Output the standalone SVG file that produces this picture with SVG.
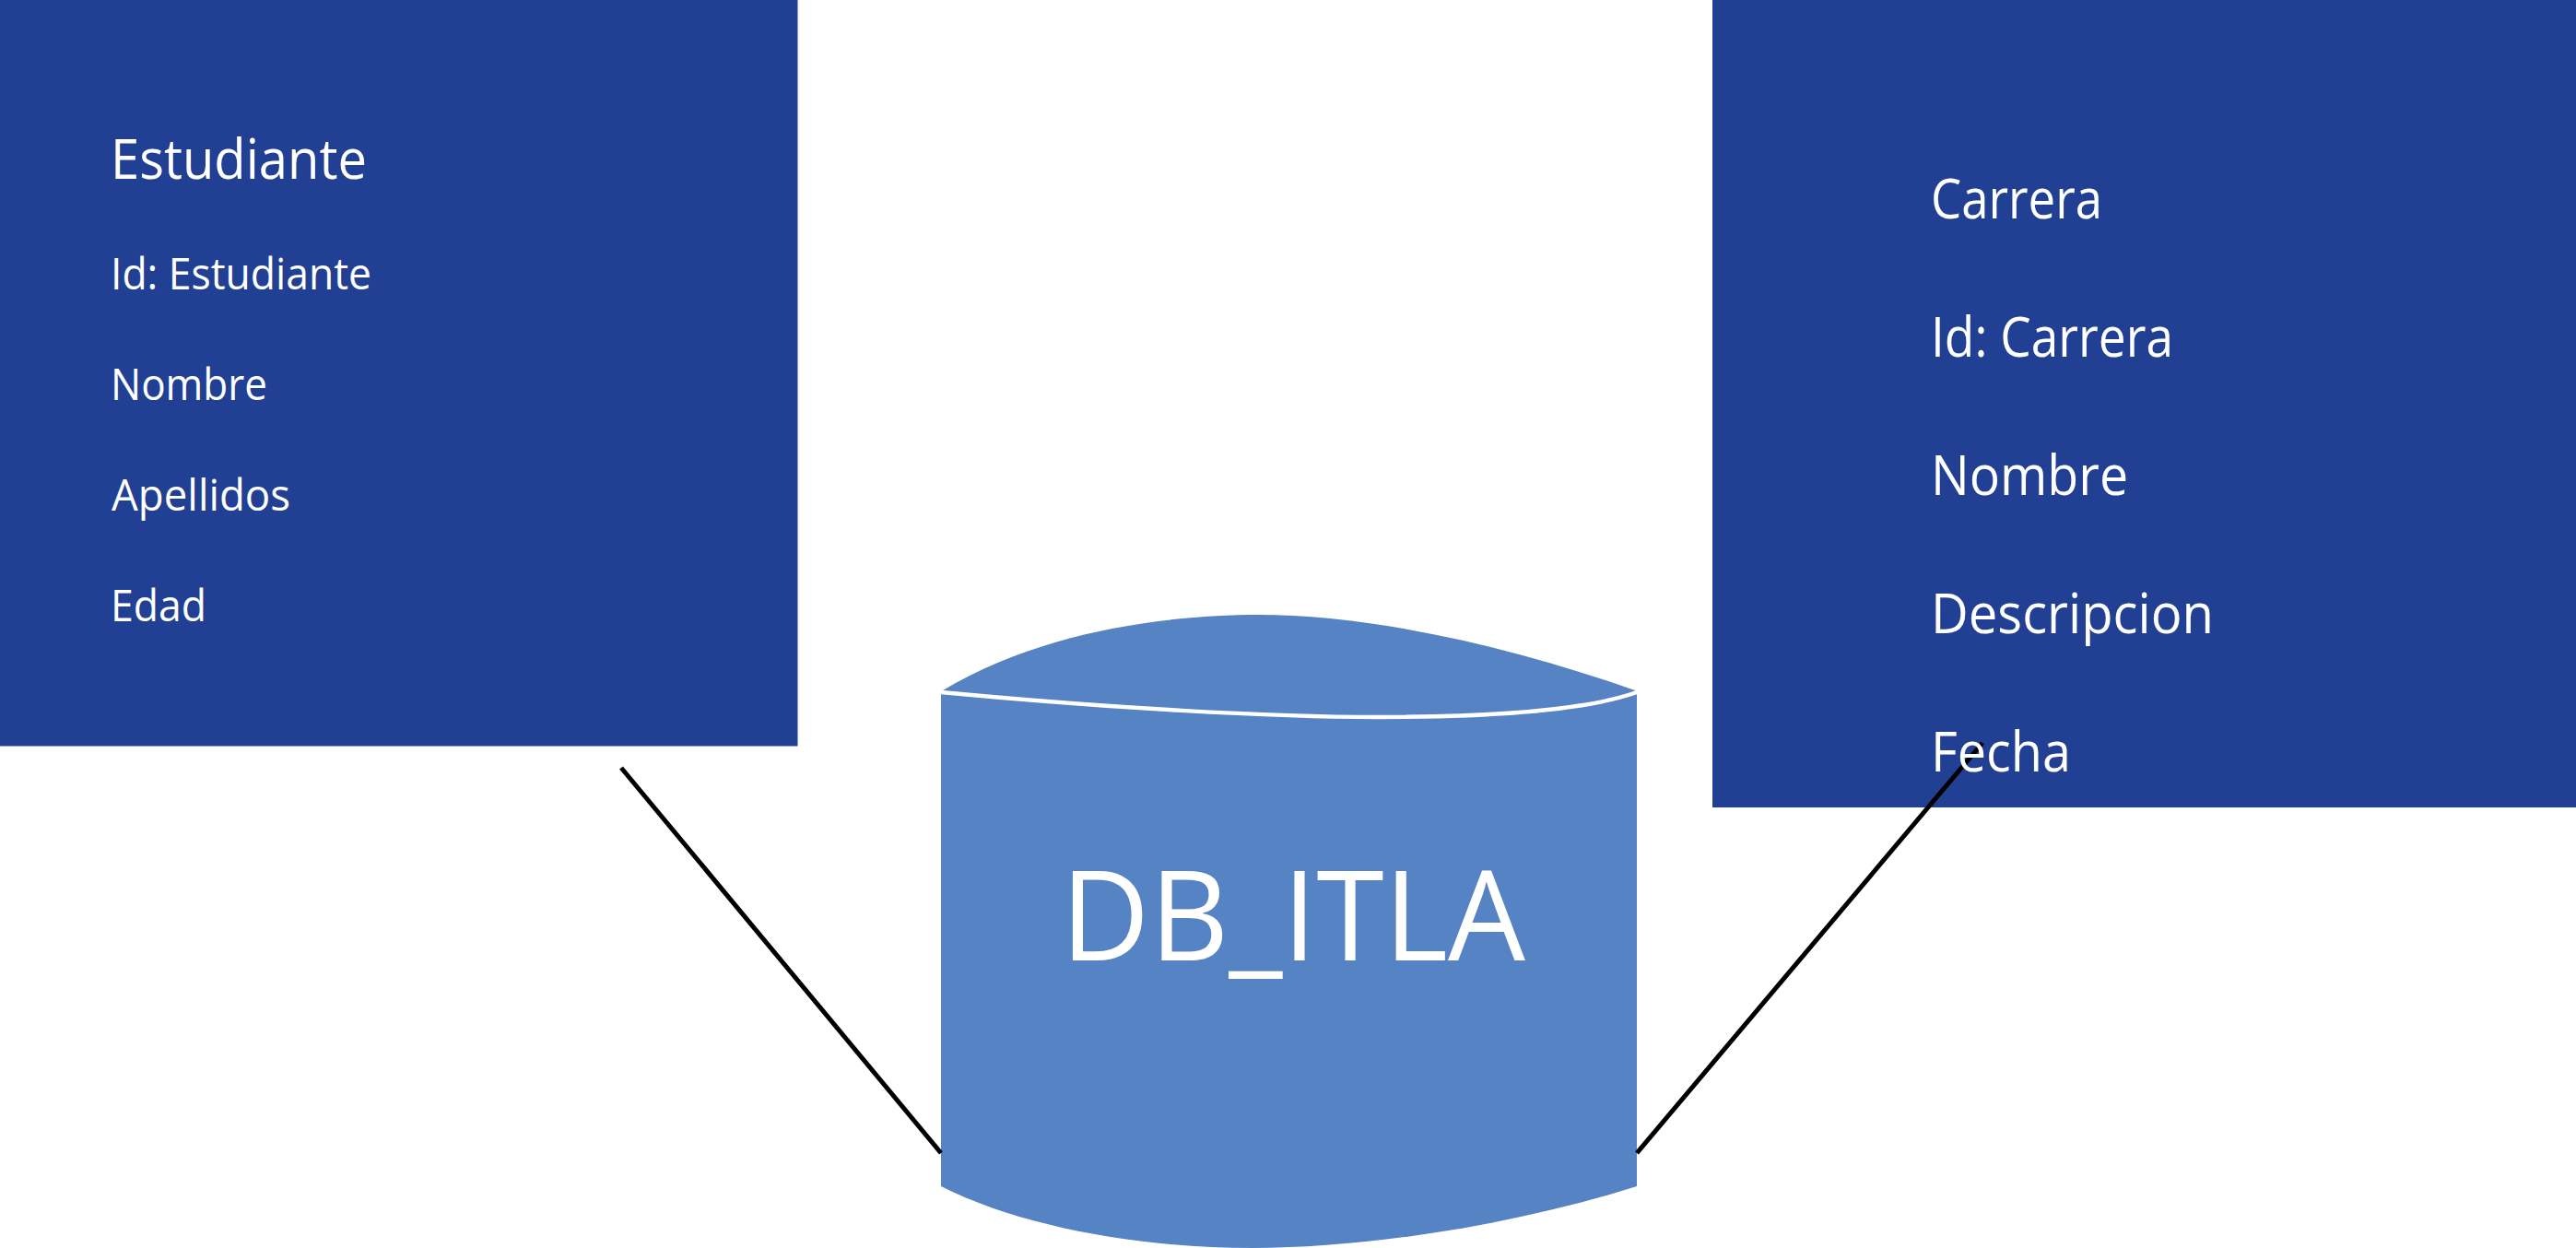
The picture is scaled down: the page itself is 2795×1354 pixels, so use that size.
<svg xmlns="http://www.w3.org/2000/svg" width="2795" height="1354" viewBox="0 0 2795 1354">
<style>
.box{fill:#224093}
.cyl{fill:#5683c4}
.rim{fill:none;stroke:#fff;stroke-width:4.500}
.link{stroke:#000;stroke-width:5;fill:none}
text{font-family:"Open Sans","Noto Sans","Liberation Sans",sans-serif;fill:#fff}
.s{font-size:47.5px}
.m{font-size:60px}
.l{font-size:136px}
</style>
<rect width="2795" height="1354" fill="#fff"/>
<g id="estudiante"><rect class="box" x="0" y="0" width="865.500" height="809.500"/></g>
<g id="carrera"><rect class="box" x="1858" y="0" width="937" height="876"/></g>
<g id="db-itla">
<path class="cyl" d="M1023 749C1130 684 1270 667 1365 667C1490 667 1640 702 1774 749L1776 752V1287C1640 1330 1480 1354 1359 1354C1240 1354 1110 1332 1021 1287V752Z"/>
<path class="rim" d="M1021 751C1200 768 1380 778 1495 778C1610 778 1720 771 1776 751"/>
<text class="l" x="1151" y="1042" textLength="504" lengthAdjust="spacingAndGlyphs">DB_ITLA</text>
</g>
<g id="connectors">
<line class="link" x1="674" y1="833" x2="1021" y2="1251"/>
<line class="link" x1="1776" y1="1251" x2="2151" y2="806"/>
</g>
<g id="estudiante-text">
<text class="m" x="120" y="194" textLength="278" lengthAdjust="spacingAndGlyphs">Estudiante</text>
<text class="s" x="120" y="314" textLength="283" lengthAdjust="spacingAndGlyphs">Id: Estudiante</text>
<text class="s" x="120" y="434" textLength="170" lengthAdjust="spacingAndGlyphs">Nombre</text>
<text class="s" x="121" y="554" textLength="194" lengthAdjust="spacingAndGlyphs">Apellidos</text>
<text class="s" x="120" y="674" textLength="104" lengthAdjust="spacingAndGlyphs">Edad</text>
</g>
<g id="carrera-text">
<text class="m" x="2095" y="237" textLength="186" lengthAdjust="spacingAndGlyphs">Carrera</text>
<text class="m" x="2095" y="387" textLength="263" lengthAdjust="spacingAndGlyphs">Id: Carrera</text>
<text class="m" x="2095" y="537" textLength="214" lengthAdjust="spacingAndGlyphs">Nombre</text>
<text class="m" x="2095" y="687" textLength="307" lengthAdjust="spacingAndGlyphs">Descripcion</text>
<text class="m" x="2095" y="837" textLength="152" lengthAdjust="spacingAndGlyphs">Fecha</text>
</g>
</svg>
